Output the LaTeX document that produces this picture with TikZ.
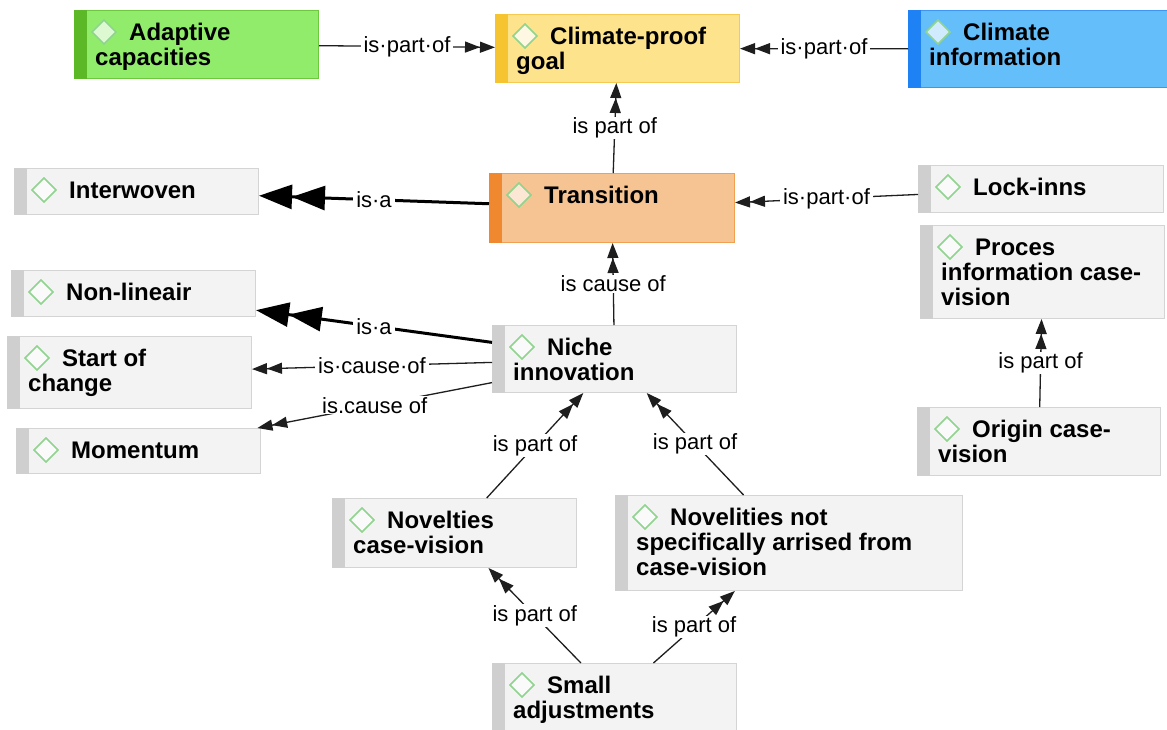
\documentclass[tikz,border=0pt]{standalone}
\usepackage{fontspec}
\setmainfont{Liberation Sans}
\usetikzlibrary{arrows.meta}

\definecolor{grayfill}{HTML}{F3F3F3}
\definecolor{grayline}{HTML}{D4D4D4}
\definecolor{graystrip}{HTML}{CFCFCF}
\definecolor{greenfill}{HTML}{90EC6A}
\definecolor{greenline}{HTML}{6CC83C}
\definecolor{greenstrip}{HTML}{5CB826}
\definecolor{yellowfill}{HTML}{FDE48C}
\definecolor{yellowline}{HTML}{F6CA50}
\definecolor{yellowstrip}{HTML}{F6C430}
\definecolor{bluefill}{HTML}{64BEFA}
\definecolor{blueline}{HTML}{3C96F5}
\definecolor{bluestrip}{HTML}{1E82F5}
\definecolor{orangefill}{HTML}{F6C492}
\definecolor{orangeline}{HTML}{F0A050}
\definecolor{orangestrip}{HTML}{F08830}
\definecolor{iconline}{HTML}{8FD48F}
\definecolor{edgecol}{HTML}{1E1E1E}

\tikzset{
  card/.style={draw, anchor=north west, inner sep=0pt, line width=1pt},
  gray card/.style={fill=grayfill, draw=grayline},
  gray strip/.style={fill=graystrip},
  gray icon/.style={fill=white, fill opacity=.6},
  green card/.style={fill=greenfill, draw=greenline},
  green strip/.style={fill=greenstrip},
  green icon/.style={fill=white, fill opacity=.7},
  yellow card/.style={fill=yellowfill, draw=yellowline},
  yellow strip/.style={fill=yellowstrip},
  yellow icon/.style={fill=white, fill opacity=.75},
  blue card/.style={fill=bluefill, draw=blueline},
  blue strip/.style={fill=bluestrip},
  blue icon/.style={fill=white, fill opacity=.7},
  orange card/.style={fill=orangefill, draw=orangeline},
  orange strip/.style={fill=orangestrip},
  orange icon/.style={fill=white, fill opacity=.6},
  icon/.style={draw=iconline, line width=1.3pt, line join=miter},
  cardtext/.style={anchor=base west, inner sep=0pt,
    font=\fontsize{24}{25}\selectfont\bfseries},
  rel/.style={draw=edgecol, line width=1.3pt,
    -{Triangle[length=15pt,width=11pt]Triangle[length=15pt,width=11pt]}},
  isa/.style={draw=black, line width=3pt,
    -{Triangle[length=33pt,width=24pt]Triangle[length=33pt,width=24pt]}},
  lab/.style={fill=white, text=black, inner xsep=3pt, inner ysep=1pt,
    font=\fontsize{22}{24}\selectfont},
}

% \card{name}{scheme}{left}{top}{width}{height}{lines}
\newcommand\card[7]{%
  \node[card, #2 card, minimum width=#5pt, minimum height=#6pt] (#1) at (#3,#4) {};
  \fill[#2 strip] (#1.north west) rectangle ([xshift=13pt]#1.south west);
  \path[icon, #2 icon] ([xshift=18pt,yshift=-22pt]#1.north west)
    -- ++(12pt,12pt) -- ++(12pt,-12pt) -- ++(-12pt,-12pt) -- cycle;
  \draw[icon] ([xshift=18pt,yshift=-22pt]#1.north west)
    -- ++(12pt,12pt) -- ++(12pt,-12pt) -- ++(-12pt,-12pt) -- cycle;
  \node[cardtext] at ([xshift=21pt,yshift=-30pt]#1.north west)
    {\begin{tabular}[t]{@{}l@{}}\hspace*{34pt}#7\end{tabular}};
}

\begin{document}
\begin{tikzpicture}[x=1pt,y=-1pt]
\useasboundingbox (0,0) rectangle (1167,729);
\fill[white] (0,0) rectangle (1167,729);
\clip (0,0) rectangle (1167,729);

% concepts
\card{adapt}{green}{74}{10}{244}{68}{Adaptive\\capacities}
\card{goal}{yellow}{495}{14}{244}{68}{Climate-proof\\goal}
\card{info}{blue}{908}{10}{262}{77}{Climate\\information}
\card{inter}{gray}{14}{168}{244}{46}{Interwoven}
\card{trans}{orange}{489}{173}{245}{69}{Transition}
\card{lock}{gray}{918}{165}{245}{47}{Lock-inns}
\card{proces}{gray}{920}{225}{244}{93}{Proces\\information case-\\vision}
\card{nonlin}{gray}{11}{270}{244}{46}{Non-lineair}
\card{start}{gray}{7}{336}{244}{72}{Start of\\change}
\card{niche}{gray}{492}{325}{244}{67}{Niche\\innovation}
\card{moment}{gray}{16}{428}{244}{45}{Momentum}
\card{origin}{gray}{917}{407}{243}{68}{Origin case-\\vision}
\card{novel}{gray}{332}{498}{244}{69}{Novelties\\case-vision}
\card{novelnot}{gray}{615}{495}{347}{95}{Novelities not\\specifically arrised from\\case-vision}
\card{small}{gray}{492}{663}{244}{68}{Small\\adjustments}

% relations
\draw[rel] (adapt) -- node[lab]{is·part·of} (goal);
\draw[rel] (info) -- node[lab]{is·part·of} (goal);
\draw[rel] (trans) -- node[lab]{is part of} (goal);
\draw[isa] (trans) -- node[lab]{is·a} (inter);
\draw[rel] (lock) -- node[lab]{is·part·of} (trans);
\draw[rel] (niche) -- node[lab]{is cause of} (trans);
\draw[isa] (niche) -- node[lab]{is·a} (nonlin);
\draw[rel] (niche) -- node[lab]{is·cause·of} (start);
\draw[rel] (niche) -- node[lab]{is.cause of} (moment);
\draw[rel] (novel) -- node[lab]{is part of} (niche);
\draw[rel] (novelnot) -- node[lab]{is part of} (niche);
\draw[rel] (small) -- node[lab]{is part of} (novel);
\draw[rel] (small) -- node[lab]{is part of} (novelnot);
\draw[rel] (origin) -- node[lab]{is part of} (proces);
\end{tikzpicture}
\end{document}
